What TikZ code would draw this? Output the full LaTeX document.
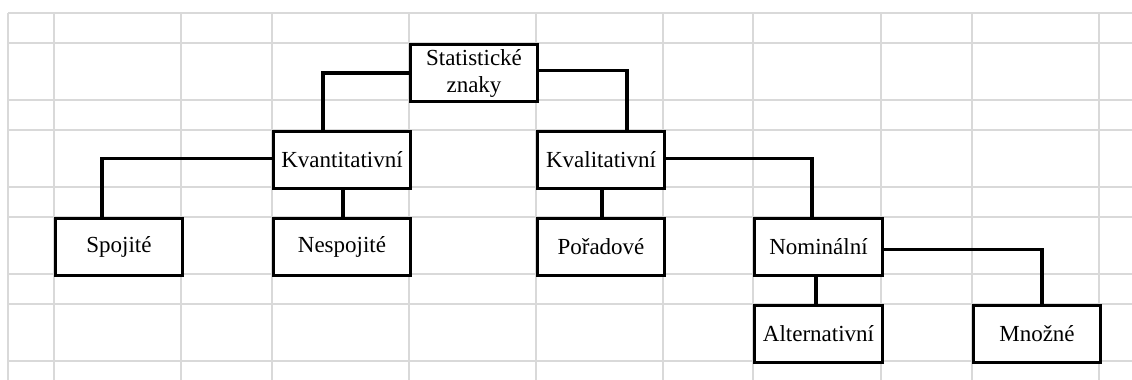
\documentclass[tikz,border=0pt]{standalone}
\usepackage{fontspec}
\setmainfont{Liberation Serif}
\begin{document}
\begin{tikzpicture}[x=1pt,y=-1pt,
  gridline/.style={draw=black!15, line width=1.2pt},
  box/.style={draw=black, line width=3pt, fill=white, rectangle, anchor=north west,
    inner sep=0pt, minimum height=57pt, font=\fontsize{23}{28}\selectfont, align=center},
  conn/.style={draw=black, line width=3.3pt}]
\useasboundingbox (0,0) rectangle (1132,380);
% grid
\foreach \gx in {8,54,181,272,409,536,663,753,881,972,1099}
  \draw[gridline] (\gx,13) -- (\gx,380);
\foreach \gy in {13,43,100,130,187,217,274,304,361}
  \draw[gridline] (8,\gy) -- (1132,\gy);
% boxes
\node[box, minimum width=127pt] (stat) at (409,43) {Statistické\\[-1pt]znaky};
\node[box, minimum width=137pt] (kvant) at (272,130) {Kvantitativní};
\node[box, minimum width=127pt] (kval) at (536,130) {Kvalitativní};
\node[box, minimum width=127pt] (spoj) at (54,217) {Spojité};
\node[box, minimum width=137pt] (nesp) at (272,217) {Nespojité};
\node[box, minimum width=127pt] (por) at (536,217) {Pořadové};
\node[box, minimum width=128pt] (nom) at (753,217) {Nominální};
\node[box, minimum width=128pt] (alt) at (753,304) {Alternativní};
\node[box, minimum width=127pt] (mnoz) at (972,304) {Množné};
% connectors
\draw[conn] (stat.west) -| ([xshift=51pt]kvant.north west);
\draw[conn] ([yshift=2.5pt]stat.east) -| ([xshift=91pt]kval.north west);
\draw[conn] ([yshift=1.5pt]kvant.west) -| ([xshift=48pt]spoj.north west);
\draw[conn] ([xshift=71pt]kvant.south west) -- ([xshift=71pt]nesp.north west);
\draw[conn] ([yshift=1.5pt]kval.east) -| ([xshift=59pt]nom.north west);
\draw[conn] ([xshift=66pt]kval.south west) -- ([xshift=66pt]por.north west);
\draw[conn] ([yshift=-2.5pt]nom.east) -| ([xshift=70pt]mnoz.north west);
\draw[conn] ([xshift=63pt]nom.south west) -- ([xshift=63pt]alt.north west);
\end{tikzpicture}
\end{document}
